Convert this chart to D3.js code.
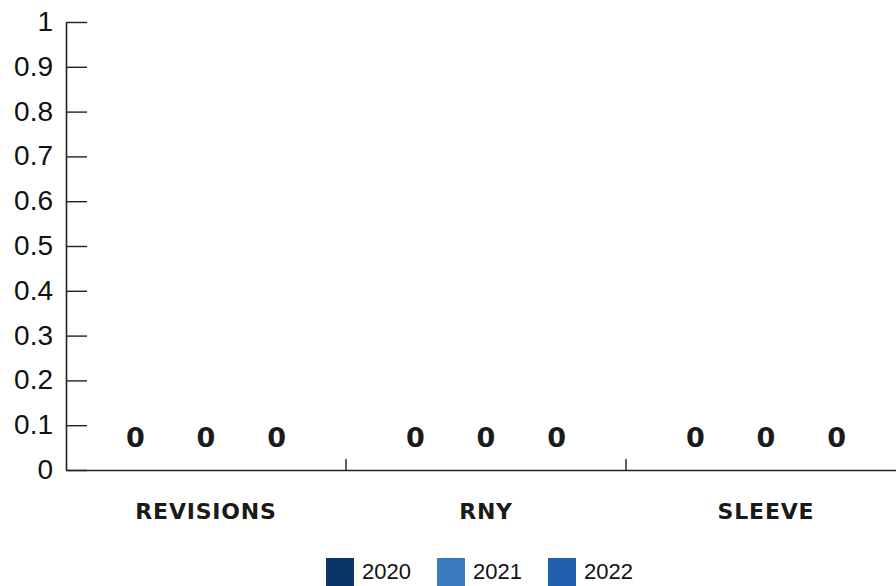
<!DOCTYPE html>
<html><head><meta charset="utf-8">
<script src="https://cdn.jsdelivr.net/npm/d3@7"></script>
<style>html,body{margin:0;padding:0;background:#fff;overflow:hidden}</style>
</head><body>
<svg id="c" width="896" height="586"></svg>
<script>
const categories = ["REVISIONS", "RNY", "SLEEVE"];
const years = ["2020", "2021", "2022"];
const values2020 = [0, 0, 0];
const values2021 = [0, 0, 0];
const values2022 = [0, 0, 0];
const yTicks = [0, 0.1, 0.2, 0.3, 0.4, 0.5, 0.6, 0.7, 0.8, 0.9, 1];
const colors = ["#0b3566", "#3a7bc0", "#1f5fad"];

const series = [values2020, values2021, values2022];
const svg = d3.select("#c");
const x = d3.scaleBand().domain(categories).range([66, 906]).padding(0);
const xs = d3.scaleBand().domain(years).range([30.5, 249.5]).padding(0.1);
const y = d3.scaleLinear().domain([0, 1]).range([470, 22]);

// Y axis
const ya = svg.append("g").attr("transform", "translate(66,0)")
  .call(d3.axisLeft(y).tickValues(yTicks).tickFormat(d => d3.format("")(d)).tickSizeInner(-21).tickSizeOuter(0).tickPadding(13));
ya.select(".domain").attr("stroke", "#222").attr("stroke-width", 1.6);
ya.selectAll(".tick line").attr("stroke", "#222").attr("stroke-width", 1.4);
ya.selectAll(".tick text").attr("font-family", "Liberation Sans, Arial, sans-serif").attr("font-size", 28).attr("fill", "#111").attr("dy", "0.3em");

// X axis
const xa = svg.append("g").attr("transform", "translate(0,470)")
  .call(d3.axisBottom(x).tickSize(0).tickFormat(""));
xa.select(".domain").attr("stroke", "#222").attr("stroke-width", 1.6);
// boundary ticks
svg.append("g").selectAll("line").data(categories.slice(1)).join("line")
  .attr("x1", d => x(d)).attr("x2", d => x(d)).attr("y1", 459).attr("y2", 470)
  .attr("stroke", "#222").attr("stroke-width", 1.4);

// category labels
svg.append("g").selectAll("text").data(categories).join("text")
  .attr("x", d => x(d) + x.bandwidth() / 2).attr("y", 519)
  .attr("text-anchor", "middle").attr("font-family", "DejaVu Sans, sans-serif").attr("font-weight", "bold")
  .attr("letter-spacing", 0.8)
  .attr("font-size", 22).attr("fill", "#1a1a1a").text(d => d);

// bars and value labels
categories.forEach((c, ci) => {
  const g = svg.append("g").attr("transform", `translate(${x(c)},0)`);
  years.forEach((yr, si) => {
    const v = series[si][ci];
    g.append("rect").attr("x", xs(yr)).attr("width", xs.bandwidth())
      .attr("y", y(v)).attr("height", y(0) - y(v)).attr("fill", colors[si]);
    g.append("text").attr("x", xs(yr) + xs.bandwidth() / 2).attr("y", y(v) - 23)
      .attr("text-anchor", "middle").attr("font-family", "DejaVu Sans, sans-serif").attr("font-weight", "bold")
      .attr("font-size", 27).attr("fill", "#1a1a1a").text(v);
  });
});

// legend
const legX = [326, 437, 548];
const lg = svg.append("g");
years.forEach((yr, i) => {
  lg.append("rect").attr("x", legX[i]).attr("y", 558).attr("width", 28).attr("height", 30).attr("fill", colors[i]);
  lg.append("text").attr("x", legX[i] + 36).attr("y", 579).attr("font-family", "Liberation Sans, Arial, sans-serif")
    .attr("font-size", 22).attr("fill", "#111").text(yr);
});
</script>
</body></html>
